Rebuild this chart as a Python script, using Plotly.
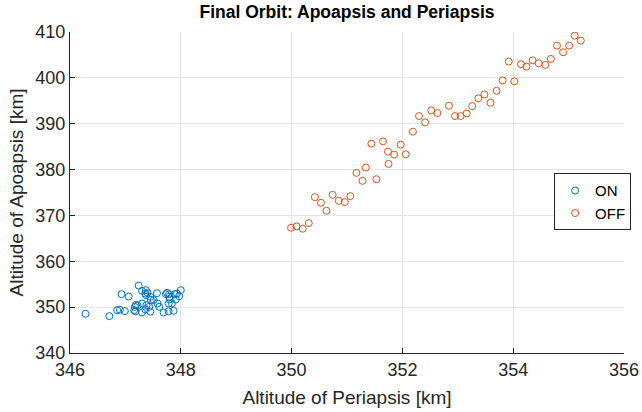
import plotly.graph_objects as go

# ON: periapsis / apoapsis altitudes [km]
on_peri = [346.28, 346.71, 346.85, 346.90, 346.99, 346.93, 347.06, 347.24, 347.30, 347.37,
           347.36, 347.40, 347.37, 347.57, 347.19, 347.17, 347.22, 347.16, 347.18, 347.30,
           347.30, 347.36, 347.38, 347.43, 347.45, 347.46, 347.51, 347.58, 347.61, 347.69,
           347.78, 347.87, 347.75, 347.79, 347.73, 347.80, 347.78, 347.84, 347.91, 347.89,
           347.93, 347.97, 348.00, 347.79, 347.45]
on_apo = [348.55, 348.04, 349.35, 349.42, 349.13, 352.83, 352.32, 354.71, 353.55, 353.70,
          352.97, 353.12, 352.61, 353.04, 350.51, 350.07, 350.36, 349.35, 349.06, 348.84,
          350.80, 349.49, 350.43, 350.07, 348.99, 351.59, 351.52, 350.80, 350.07, 348.84,
          349.06, 349.20, 353.12, 352.83, 352.83, 351.67, 350.80, 350.80, 351.67, 352.83,
          352.97, 352.39, 353.70, 352.25, 352.25]

# OFF
off_peri = [349.99, 350.09, 350.20, 350.31, 350.42, 350.53, 350.63, 350.74, 350.85, 350.96,
            351.06, 351.17, 351.28, 351.34, 351.44, 351.53, 351.65, 351.74, 351.75, 351.85,
            351.97, 352.06, 352.19, 352.30, 352.41, 352.52, 352.63, 352.84, 352.95, 353.05,
            353.16, 353.26, 353.37, 353.48, 353.59, 353.70, 353.81, 353.92, 354.02, 354.14,
            354.24, 354.35, 354.46, 354.58, 354.68, 354.79, 354.90, 355.01, 355.11, 355.22]
off_apo = [367.32, 367.61, 367.10, 368.33, 373.99, 372.75, 371.01, 374.49, 373.19, 372.90,
           374.20, 379.28, 377.54, 380.43, 385.65, 377.90, 386.16, 383.91, 381.23, 383.26,
           385.43, 383.33, 388.26, 391.67, 390.29, 392.90, 392.32, 393.91, 391.67, 391.67,
           392.25, 393.84, 395.54, 396.38, 394.57, 397.17, 399.46, 403.55, 399.24, 402.97,
           402.46, 403.84, 403.19, 402.83, 404.13, 407.03, 405.58, 407.03, 409.20, 408.12]

FONT = "Liberation Sans, Arial, sans-serif"
AX = "#262626"

fig = go.Figure()
fig.add_trace(go.Scatter(
    x=on_peri, y=on_apo, mode="markers", name="ON",
    marker=dict(symbol="circle-open", size=7, color="#0072BD", line=dict(width=1)),
))
fig.add_trace(go.Scatter(
    x=off_peri, y=off_apo, mode="markers", name="OFF",
    marker=dict(symbol="circle-open", size=7, color="#D95319", line=dict(width=1)),
))

axis_common = dict(
    showgrid=True, gridcolor="#e5e5e5", gridwidth=1,
    showline=True, linecolor=AX, linewidth=1,
    ticks="inside", ticklen=5, tickcolor=AX,
    tickfont=dict(family=FONT, size=18, color=AX),
    zeroline=False, automargin=False,
)

fig.update_layout(
    width=642, height=412,
    margin=dict(l=70, r=17, t=32, b=59),
    paper_bgcolor="white", plot_bgcolor="white",
    title=dict(text="<b>Final Orbit: Apoapsis and Periapsis</b>", x=0.5, xref="paper",
               y=1 - 12 / 412, yref="container", yanchor="middle", automargin=False,
               font=dict(family=FONT, size=17.5, color="black")),
    xaxis=dict(axis_common, range=[346, 356], dtick=2,
               title=dict(text="Altitude of Periapsis [km]", standoff=12,
                          font=dict(family=FONT, size=19, color=AX))),
    yaxis=dict(axis_common, range=[340, 410], dtick=10,
               title=dict(text="Altitude of Apoapsis [km]", standoff=6,
                          font=dict(family=FONT, size=19, color=AX))),
    legend=dict(x=1.011, xanchor="right", y=0.471, yanchor="middle",
                bgcolor="white", bordercolor=AX, borderwidth=1, itemwidth=30,
                font=dict(family=FONT, size=15, color="black")),
    showlegend=True,
)

# page body has a default 8px margin; drop it so the figure sits at the window origin
fig.write_html("out.html", config={"displayModeBar": False},
               post_script="document.body.style.margin='0';")
